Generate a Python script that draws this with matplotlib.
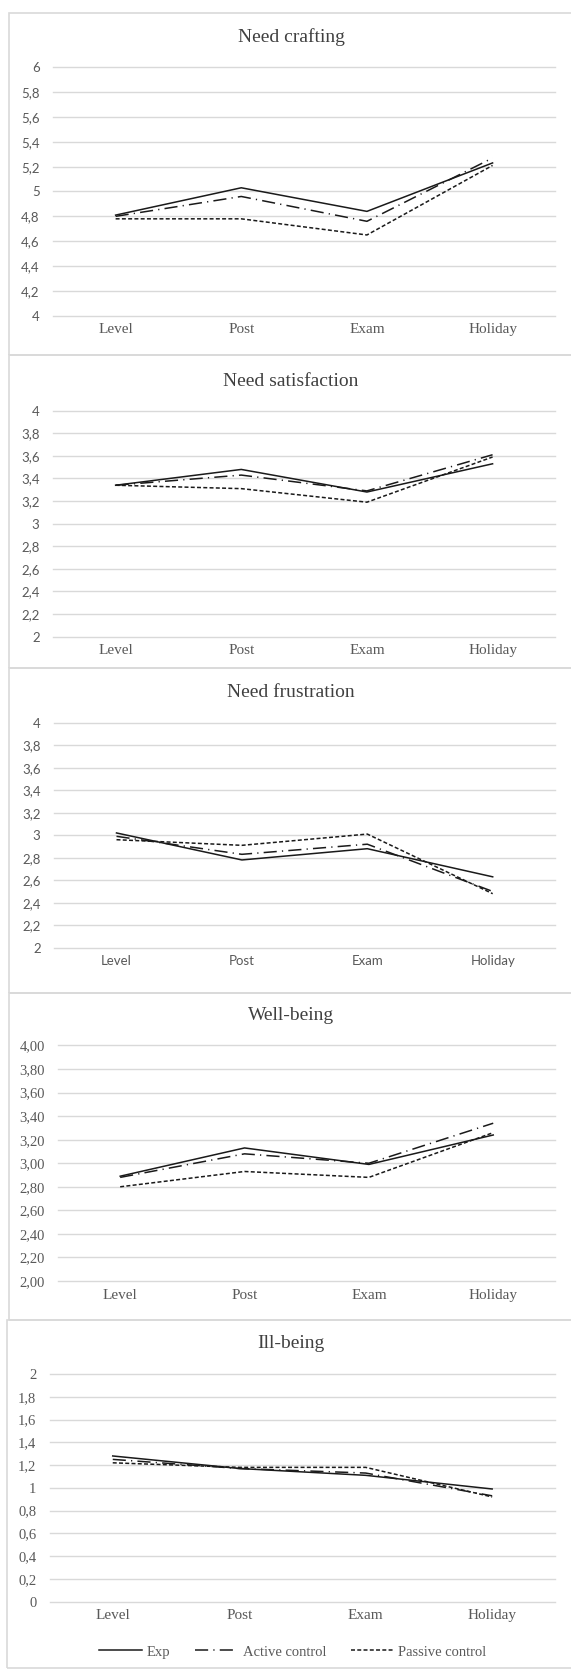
import numpy as np
import matplotlib.pyplot as plt
from matplotlib.patches import Rectangle
from matplotlib.ticker import FuncFormatter

categories = ['Level', 'Post', 'Exam', 'Holiday']
groups = ['Exp', 'Active control', 'Passive control']

titles = ['Need crafting', 'Need satisfaction', 'Need frustration', 'Well-being', 'Ill-being']

crafting_exp = [4.81, 5.03, 4.84, 5.23]
crafting_active = [4.80, 4.96, 4.76, 5.27]
crafting_passive = [4.78, 4.78, 4.65, 5.21]

satisfaction_exp = [3.34, 3.48, 3.28, 3.53]
satisfaction_active = [3.34, 3.43, 3.29, 3.61]
satisfaction_passive = [3.34, 3.31, 3.19, 3.59]

frustration_exp = [3.02, 2.78, 2.88, 2.63]
frustration_active = [2.99, 2.83, 2.92, 2.50]
frustration_passive = [2.96, 2.91, 3.01, 2.48]

wellbeing_exp = [2.89, 3.13, 2.99, 3.24]
wellbeing_active = [2.88, 3.08, 3.00, 3.34]
wellbeing_passive = [2.80, 2.93, 2.88, 3.26]

illbeing_exp = [1.28, 1.17, 1.11, 0.99]
illbeing_active = [1.25, 1.17, 1.13, 0.93]
illbeing_passive = [1.22, 1.18, 1.18, 0.92]

yranges = [(4, 6), (2, 4), (2, 4), (2, 4), (0, 2)]

W, H = 571, 1669
SERIF = 'Liberation Serif'
SANS = 'Lato'
GRID = '#d9d9d9'
TXT = '#595959'
LINE = '#1a1a1a'

styles = [dict(ls='-'),
          dict(ls=(0, (8.6, 3.4, 0.8, 3.4))),
          dict(ls=(0, (2.6, 1.5)))]

# pixel layout: left, top, bottom of plot area, title y, box top, box bottom,
# tick font, category font, decimals
layout = [
    (52.8, 67.3, 315.7, 37.5, 12.7, 355, SANS, SERIF, None),
    (52.8, 410.7, 636.6, 381, 355, 668, SANS, SERIF, None),
    (53.8, 722.7, 947.7, 692, 668, 992.7, SANS, SANS, None),
    (58.0, 1045.5, 1281, 1016, 992.7, 1320, SERIF, SERIF, 2),
    (49.5, 1374, 1601.7, 1343, 1320, 1668, SERIF, SERIF, None),
]
RIGHT = 555.4


def fmt_comma(dec):
    def f(v, pos):
        if dec:
            s = f'{v:.{dec}f}'
        else:
            s = f'{v:.1f}'.rstrip('0').rstrip('.')
        return s.replace('.', ',')
    return FuncFormatter(f)


fig = plt.figure(figsize=(W / 100, H / 100), dpi=100)

data = [
    (crafting_exp, crafting_active, crafting_passive),
    (satisfaction_exp, satisfaction_active, satisfaction_passive),
    (frustration_exp, frustration_active, frustration_passive),
    (wellbeing_exp, wellbeing_active, wellbeing_passive),
    (illbeing_exp, illbeing_active, illbeing_passive),
]

x = np.arange(len(categories))
handles = []
for i, (left, top, bot, ty, btop, bbot, tfont, cfont, dec) in enumerate(layout):
    # chart box
    box_left = 7 if i == 4 else 9
    fig.patches.append(Rectangle((box_left / W, 1 - bbot / H), (W + 5 - box_left) / W, (bbot - btop) / H,
                                 transform=fig.transFigure, fill=False, edgecolor=GRID, lw=1.2))
    ax = fig.add_axes([left / W, 1 - bot / H, (RIGHT - left) / W, (bot - top) / H])
    lo, hi = yranges[i]
    ax.set_xlim(-0.5, 3.5)
    ax.set_ylim(lo, hi)
    ax.set_yticks(np.linspace(lo, hi, 11))
    ax.yaxis.set_major_formatter(fmt_comma(dec))
    ax.set_xticks(x)
    ax.set_xticklabels(categories)
    for s in ax.spines.values():
        s.set_visible(False)
    ax.grid(axis='y', color=GRID, lw=1.0)
    for gl in ax.get_ygridlines():
        gl.set_clip_on(False)
    ax.set_axisbelow(True)
    ax.tick_params(length=0, colors=TXT)
    ax.tick_params(axis='y', pad=9.5)
    ax.tick_params(axis='x', pad=5.5)
    for lab in ax.get_yticklabels():
        lab.set_fontfamily(tfont)
        lab.set_fontsize(9.5 if tfont == SANS else 10.5)
    for lab in ax.get_xticklabels():
        lab.set_fontfamily(cfont)
        lab.set_fontsize(9.5 if cfont == SANS else 11)
    for j, vals in enumerate(data[i]):
        ln, = ax.plot(x, vals, color=LINE, lw=1.1, label=groups[j], **styles[j])
        if i == 4:
            handles.append(ln)
    fig.text(291 / W, 1 - ty / H, titles[i], ha='center', va='center',
             fontfamily=SERIF, fontsize=14, color='#404040')

fig.legend(handles=handles, loc='center', bbox_to_anchor=(293 / W, 1 - 1652 / H), ncol=3,
           frameon=False, handlelength=2.9, columnspacing=1.7, handletextpad=0.35,
           prop={'family': SERIF, 'size': 10.5}, labelcolor=TXT)

fig.savefig('out.png', dpi=100)
